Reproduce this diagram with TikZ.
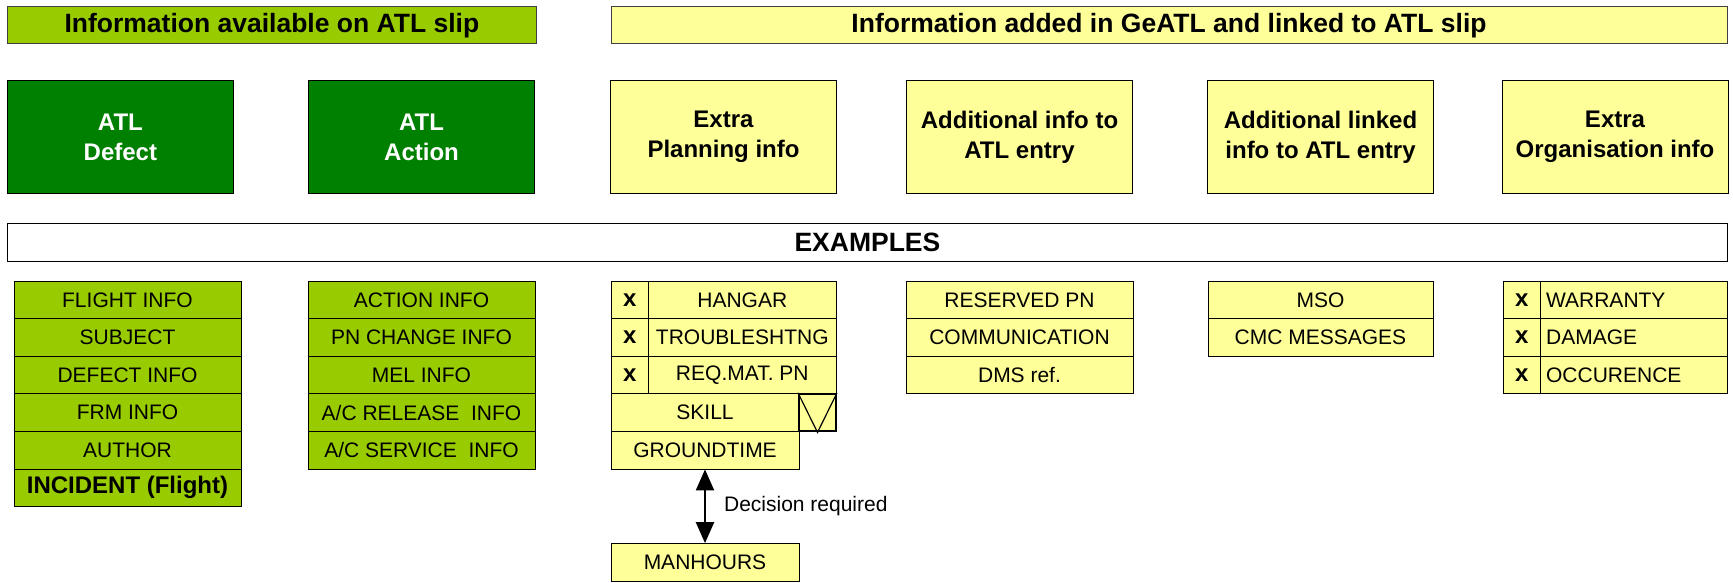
\documentclass[tikz,border=0pt]{standalone}
\usepackage{fontspec}
\setmainfont{Liberation Sans}
\usetikzlibrary{arrows.meta}

\definecolor{atllime}{HTML}{99CC00}
\definecolor{atlgreen}{HTML}{008000}
\definecolor{geyellow}{HTML}{FFFF99}

\tikzset{
  headbox/.style={draw=black!75, line width=1pt, inner sep=0pt, minimum height=37.4pt,
    font=\fontsize{26.5}{31}\selectfont\bfseries},
  slipbox/.style={draw, line width=1pt, fill=atlgreen, text=white, inner sep=0pt,
    minimum width=226pt, minimum height=112.7pt, align=center,
    font=\fontsize{24}{30}\selectfont\bfseries},
  geatlbox/.style={slipbox, fill=geyellow, text=black},
  item/.style={draw, line width=0.9pt, inner sep=0pt, minimum height=37.6pt,
    font=\fontsize{21}{25}\selectfont},
  limeitem/.style={item, fill=atllime, minimum width=227pt},
  yellitem/.style={item, fill=geyellow},
  tickcell/.style={yellitem, minimum width=37.6pt, font=\fontsize{24}{28}\selectfont\bfseries},
  leftcell/.style={yellitem, inner xsep=5.5pt, text width=175.4pt, align=left}
}

\begin{document}
\begin{tikzpicture}[x=1pt,y=-1pt]
\useasboundingbox (0,0) rectangle (1733,583);

% headers
\node[headbox, fill=atllime, minimum width=528.3pt] (hslip) at (271.9,25.2) {Information available on ATL slip};
\node[headbox, fill=geyellow, minimum width=1116pt] (hgeatl) at (1169,25.2) {Information added in GeATL and linked to ATL slip};

% main boxes
\node[slipbox] (defect) at (120.4,137) {ATL\\Defect};
\node[slipbox] (action) at (421.5,137) {ATL\\Action};
\node[geatlbox] (planning) at (723.5,137) {Extra\\Planning info};
\node[geatlbox] (addinfo) at (1019.5,137) {Additional info to\\ATL entry};
\node[geatlbox] (linked) at (1320.5,137) {Additional linked\\info to ATL entry};
\node[geatlbox] (orga) at (1615,137) {Extra\\Organisation info};

\node[headbox, draw=black, fill=white, minimum width=1719.3pt] (examples) at (867.4,242.5) {EXAMPLES};

% defect items
\node[limeitem] (flight) at (127.5,299.8) {FLIGHT INFO};
\node[limeitem] (subject) at (127.5,337.4) {SUBJECT};
\node[limeitem] (definfo) at (127.5,375) {DEFECT INFO};
\node[limeitem] (frm) at (127.5,412.6) {FRM INFO};
\node[limeitem] (author) at (127.5,450.2) {AUTHOR};
\node[limeitem, font=\fontsize{24}{28}\selectfont\bfseries] (incident) at (127.5,487.8) {INCIDENT (Flight)};

% action items
\node[limeitem] (actinfo) at (421.5,299.8) {ACTION INFO};
\node[limeitem] (pnchange) at (421.5,337.4) {PN CHANGE INFO};
\node[limeitem] (mel) at (421.5,375) {MEL INFO};
\node[limeitem] (release) at (421.5,412.6) {A/C RELEASE\ \ INFO};
\node[limeitem] (service) at (421.5,450.2) {A/C SERVICE\ \ INFO};

% planning items
\node[tickcell] (xhangar) at (629.8,299.8) {x};
\node[yellitem, minimum width=187.4pt] (hangar) at (742.3,299.8) {HANGAR};
\node[tickcell] (xtrouble) at (629.8,337.4) {x};
\node[yellitem, minimum width=187.4pt] (trouble) at (742.3,337.4) {TROUBLESHTNG};
\node[tickcell] (xreqmat) at (629.8,375) {x};
\node[yellitem, minimum width=187.4pt] (reqmat) at (742.3,375) {REQ.MAT. PN};
\node[yellitem, minimum width=188pt] (skill) at (705,412.6) {SKILL};
\node[yellitem, line width=2pt, minimum width=37pt] (vbox) at (817.5,412.6) {};
\draw[line width=1.2pt] (vbox.north west) -- (vbox.south) -- (vbox.north east);
\node[yellitem, minimum width=188pt] (ground) at (705,450.2) {GROUNDTIME};
\node[yellitem, minimum width=188pt] (manhours) at (705,562.4) {MANHOURS};
\draw[line width=2.2pt, {Triangle[width=18pt,length=21pt]}-{Triangle[width=18pt,length=21pt]}]
  (ground.south) -- node[anchor=west, inner sep=0pt, xshift=18pt, font=\fontsize{21}{25}\selectfont] (decision) {Decision required} (manhours.north);

% linked items
\node[yellitem, minimum width=227pt] (reserved) at (1019.5,299.8) {RESERVED PN};
\node[yellitem, minimum width=227pt] (commu) at (1019.5,337.4) {COMMUNICATION};
\node[yellitem, minimum width=227pt] (dms) at (1019.5,375) {DMS ref.};

\node[yellitem, minimum width=225pt] (mso) at (1320.5,299.8) {MSO};
\node[yellitem, minimum width=225pt] (cmc) at (1320.5,337.4) {CMC MESSAGES};

% organisation items
\node[tickcell] (xwarranty) at (1521.8,299.8) {x};
\node[leftcell] (warranty) at (1633.8,299.8) {WARRANTY};
\node[tickcell] (xdamage) at (1521.8,337.4) {x};
\node[leftcell] (damage) at (1633.8,337.4) {DAMAGE};
\node[tickcell] (xoccur) at (1521.8,375) {x};
\node[leftcell] (occur) at (1633.8,375) {OCCURENCE};

\end{tikzpicture}
\end{document}
